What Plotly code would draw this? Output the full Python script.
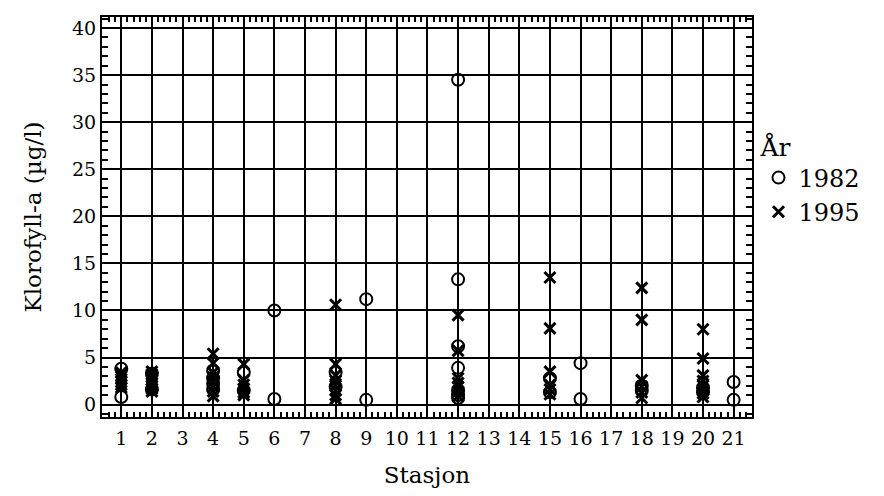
import plotly.graph_objects as go

# 1982 observations (station, chlorophyll-a)
stations_1982 = [1, 1, 2, 2, 4, 4, 4, 4, 5, 5, 6, 6, 8, 8, 9, 9,
                 12, 12, 12, 12, 12, 12, 12, 15, 15, 16, 16, 18, 18, 20, 20, 21, 21]
values_1982 = [3.8, 0.8, 3.3, 1.6, 3.6, 2.8, 2.2, 1.6, 3.4, 1.5, 10.0, 0.6, 3.4, 1.9, 11.2, 0.5,
               34.5, 13.3, 6.2, 3.9, 1.5, 1.0, 0.7, 2.8, 1.3, 4.4, 0.6, 2.0, 1.5, 1.8, 1.3, 2.4, 0.5]

# 1995 observations
stations_1995 = [1, 1, 1, 1, 1, 1,
                 2, 2, 2, 2, 2, 2, 2, 2,
                 4, 4, 4, 4, 4, 4, 4, 4,
                 5, 5, 5, 5, 5, 5,
                 8, 8, 8, 8, 8, 8, 8, 8,
                 12, 12, 12, 12, 12, 12, 12,
                 15, 15, 15, 15, 15, 15,
                 18, 18, 18, 18, 18, 18,
                 20, 20, 20, 20, 20, 20, 20, 20]
values_1995 = [3.4, 3.0, 2.7, 2.4, 2.1, 1.8,
               3.5, 3.2, 2.9, 2.6, 2.3, 2.0, 1.7, 1.4,
               5.4, 4.4, 3.4, 2.9, 2.4, 1.9, 1.4, 0.9,
               4.3, 2.6, 2.1, 1.7, 1.3, 1.0,
               10.6, 4.3, 3.1, 2.5, 2.0, 1.5, 1.0, 0.6,
               9.5, 5.7, 2.8, 2.3, 1.9, 1.4, 0.9,
               13.5, 8.1, 3.5, 2.1, 1.6, 1.1,
               12.4, 9.0, 2.6, 1.9, 1.3, 0.7,
               8.0, 4.9, 3.1, 2.5, 2.0, 1.6, 1.2, 0.8]

x_ticks = list(range(1, 22))
y_ticks = [0, 5, 10, 15, 20, 25, 30, 35, 40]

FONT = "DejaVu Serif"

fig = go.Figure()
fig.add_trace(go.Scatter(
    x=stations_1982, y=values_1982, mode="markers", name="1982",
    marker=dict(symbol="circle-open", size=12, color="black",
                line=dict(width=2, color="black")),
))
fig.add_trace(go.Scatter(
    x=stations_1995, y=values_1995, mode="markers", name="1995",
    marker=dict(symbol="x-thin", size=11, color="black",
                line=dict(width=3, color="black")),
))

fig.update_layout(
    width=868, height=480, autosize=False,
    margin=dict(l=94, r=124, t=9, b=71),
    paper_bgcolor="white", plot_bgcolor="white",
    font=dict(family=FONT, color="black", size=19),
    legend=dict(
        title=dict(text="År", font=dict(size=25, family=FONT)),
        font=dict(size=24, family=FONT),
        x=1.01, xanchor="left", y=0.735, yanchor="top",
        itemwidth=30, tracegroupgap=0,
    ),
    showlegend=True,
)

fig.update_xaxes(
    range=[0.37, 21.6], automargin=False,
    tickmode="array", tickvals=x_ticks, ticktext=[str(v) for v in x_ticks],
    showgrid=True, gridcolor="black", gridwidth=2,
    zeroline=False,
    showline=True, linecolor="black", linewidth=2, mirror="allticks",
    ticks="inside", ticklen=0, tickcolor="black", ticklabelstandoff=3,
    minor=dict(dtick=0.2, tick0=0, ticks="inside", ticklen=5, tickcolor="black", tickwidth=1.5, showgrid=False),
    tickfont=dict(size=19, family=FONT),
    title=dict(text="Stasjon", font=dict(size=23, family=FONT), standoff=29),
)
fig.update_yaxes(
    range=[-1.32, 41.17], automargin=False,
    tickmode="array", tickvals=y_ticks, ticktext=[str(v) for v in y_ticks],
    showgrid=True, gridcolor="black", gridwidth=2,
    zeroline=False,
    showline=True, linecolor="black", linewidth=2, mirror="allticks",
    ticks="inside", ticklen=0, tickcolor="black",
    minor=dict(dtick=1, tick0=0, ticks="inside", ticklen=6, tickcolor="black", tickwidth=1.5, showgrid=False),
    tickfont=dict(size=19, family=FONT),
    title=dict(text="Klorofyll-a (µg/l)", font=dict(size=23, family=FONT), standoff=24),
)

fig.write_html("out.html")
